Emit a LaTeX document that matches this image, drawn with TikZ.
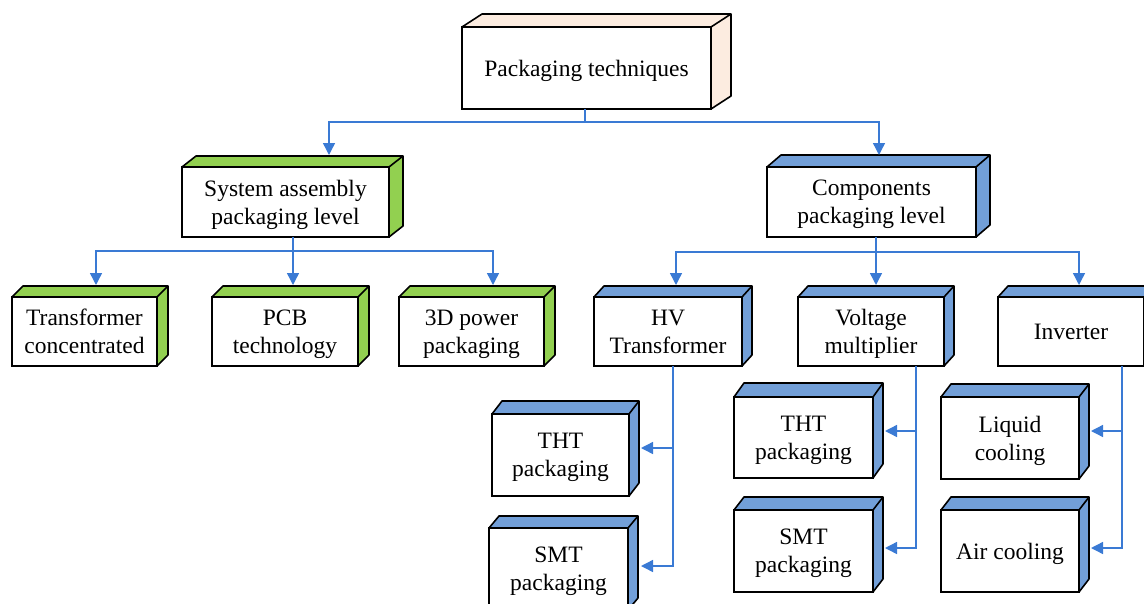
\documentclass[tikz,border=0pt]{standalone}
\usepackage{fontspec}
\setmainfont{Liberation Serif}
\usetikzlibrary{arrows.meta,calc}
\definecolor{cgreen}{RGB}{146,208,80}
\definecolor{cblue}{RGB}{114,159,216}
\definecolor{cpeach}{RGB}{252,236,224}
\definecolor{cline}{RGB}{58,122,212}
\tikzset{
  front/.style={draw=black, fill=white, line width=1.6pt, align=center, inner sep=0pt, outer sep=0pt,
    text depth=0pt, font=\fontsize{23.5}{28}\selectfont},
  face/.style={draw=black, line width=1.6pt, line join=round},
  conn/.style={draw=cline, line width=1.4pt, -{Triangle[length=12pt,width=12pt]}},
  plain/.style={draw=cline, line width=1.4pt}
}
\newcommand\cuboid[4]{%
  \filldraw[face, fill=#2] (#1.north west) -- ++(#3,#4) -- ($(#1.north east)+(#3,#4)$)
    -- ($(#1.south east)+(#3,#4)$) -- (#1.south east) -- (#1.north east) -- cycle;
  \draw[face] (#1.north east) -- ++(#3,#4);
}
\begin{document}
\begin{tikzpicture}[x=1pt,y=-1pt]
\useasboundingbox (0,0) rectangle (1144,603);
\clip (0,0) rectangle (1144,603);
% nodes
\node[front, minimum width=249pt, minimum height=82pt] (top) at (586.5,68) {Packaging techniques};
\node[front, minimum width=207pt, minimum height=70pt] (sys) at (285.5,202) {System assembly\\packaging level};
\node[front, minimum width=209pt, minimum height=70pt] (comp) at (871.5,202) {Components\\packaging level};
\node[front, minimum width=145pt, minimum height=69pt] (transf) at (84.5,331.5) {Transformer\\concentrated};
\node[front, minimum width=146pt, minimum height=69pt] (pcb) at (285,331.5) {PCB\\technology};
\node[front, minimum width=145pt, minimum height=69pt] (d3) at (471.5,331.5) {3D power\\packaging};
\node[front, minimum width=148pt, minimum height=69pt] (hv) at (668,331.5) {HV\\Transformer};
\node[front, minimum width=146pt, minimum height=69pt] (vm) at (871,331.5) {Voltage\\multiplier};
\node[front, minimum width=146pt, minimum height=69pt] (inv) at (1071,331.5) {Inverter};
\node[front, minimum width=137pt, minimum height=82pt] (tht1) at (560.5,455) {THT\\packaging};
\node[front, minimum width=139pt, minimum height=82pt] (smt1) at (558.5,569) {SMT\\packaging};
\node[front, minimum width=139pt, minimum height=81pt] (tht2) at (803.5,437.5) {THT\\packaging};
\node[front, minimum width=139pt, minimum height=82pt] (smt2) at (803.5,551) {SMT\\packaging};
\node[front, minimum width=138pt, minimum height=82pt] (liq) at (1010,438) {Liquid\\cooling};
\node[front, minimum width=138pt, minimum height=82pt] (air) at (1010,551) {Air cooling};
% 3D faces
\cuboid{top}{cpeach}{20}{-13}
\cuboid{sys}{cgreen}{14}{-11}
\cuboid{comp}{cblue}{14}{-12}
\cuboid{transf}{cgreen}{11}{-11}
\cuboid{pcb}{cgreen}{11}{-11}
\cuboid{d3}{cgreen}{11}{-11}
\cuboid{hv}{cblue}{10}{-11}
\cuboid{vm}{cblue}{10}{-11}
\cuboid{inv}{cblue}{10}{-11}
\cuboid{tht1}{cblue}{10}{-13}
\cuboid{smt1}{cblue}{10}{-12}
\cuboid{tht2}{cblue}{10}{-14}
\cuboid{smt2}{cblue}{10}{-13}
\cuboid{liq}{cblue}{10}{-13}
\cuboid{air}{cblue}{10}{-13}
% connectors
\draw[plain] ($(top.south)+(-1.5,0)$) -- ++(0,13) coordinate (j0);
\draw[conn] (j0) -| ($(sys.north)+(43.5,-12)$);
\draw[conn] (j0) -| ($(comp.north)+(7.5,-12)$);
\draw[plain] ($(sys.south)+(7.5,0)$) -- ++(0,14) coordinate (j1);
\draw[conn] (j1) -| ($(transf.north)+(11.5,-12)$);
\draw[conn] (j1) -- ($(pcb.north)+(8,-12)$);
\draw[conn] (j1) -| ($(d3.north)+(21.5,-12)$);
\draw[plain] ($(comp.south)+(4.5,0)$) -- ++(0,15) coordinate (j2);
\draw[conn] (j2) -| ($(hv.north)+(8,-12)$);
\draw[conn] (j2) -- ($(vm.north)+(5,-12)$);
\draw[conn] (j2) -| ($(inv.north)+(8,-12)$);
\draw[conn] ($(hv.south)+(5,0)$) |- ($(tht1.east)+(12,-7)$);
\draw[conn] ($(hv.south)+(5,0)$) |- ($(smt1.east)+(13,-3)$);
\draw[conn] ($(vm.south)+(45,0)$) |- ($(tht2.east)+(12,-6.5)$);
\draw[conn] ($(vm.south)+(45,0)$) |- ($(smt2.east)+(12,-3)$);
\draw[conn] ($(inv.south)+(51,0)$) |- ($(liq.east)+(12,-7)$);
\draw[conn] ($(inv.south)+(51,0)$) |- ($(air.east)+(12,-3)$);
\end{tikzpicture}
\end{document}
